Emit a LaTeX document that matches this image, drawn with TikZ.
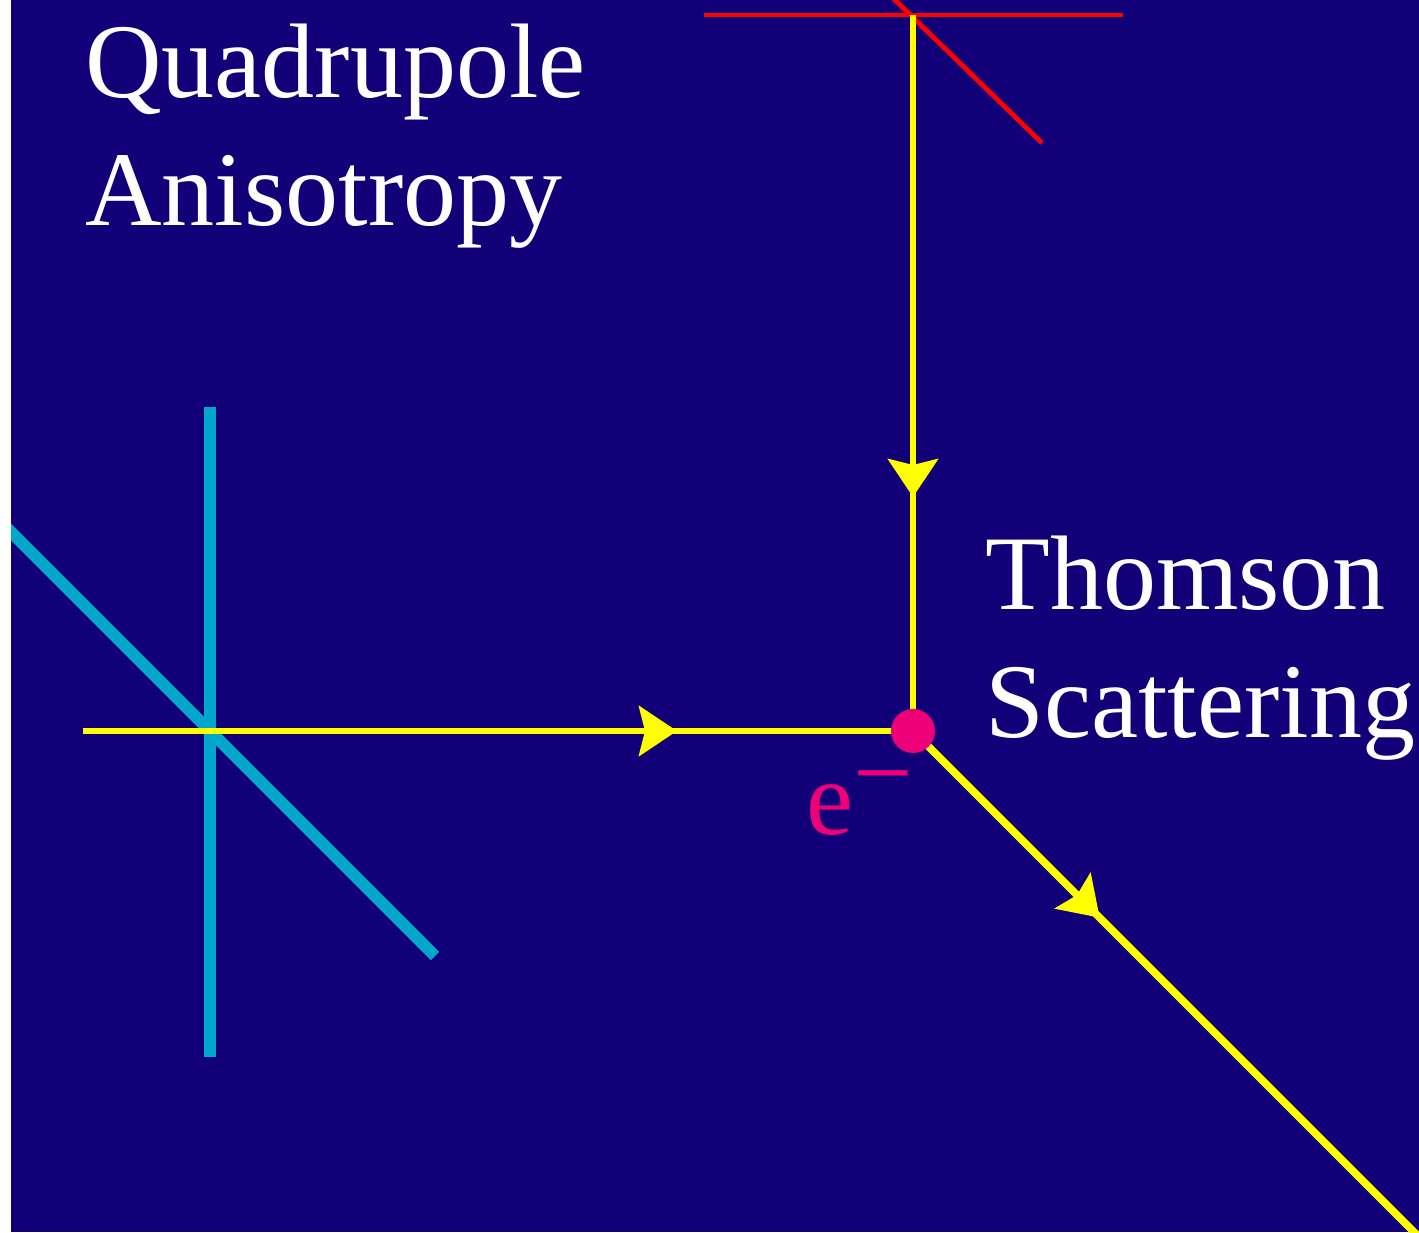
\documentclass[tikz,border=0pt]{standalone}
\usepackage{fontspec}
\setmainfont{Liberation Serif}
\usetikzlibrary{arrows.meta,decorations.markings}
\definecolor{bgblue}{RGB}{17,0,119}
\definecolor{cyanpol}{RGB}{0,166,204}
\definecolor{epink}{RGB}{238,0,120}
\definecolor{rayyellow}{RGB}{255,255,0}
\tikzset{
  ray/.style={draw=rayyellow, line width=3.4pt},
  midarrow/.style={postaction={decorate,decoration={markings,
      mark=at position #1 with {\arrow[rayyellow]{Stealth[length=19pt,width=25pt,inset=3pt]}}}}},
  label/.style={text=white, anchor=base west, inner sep=0pt, align=left,
      font=\fontsize{53}{64}\selectfont},
  redpol/.style={draw=red, line width=2.4pt},
  cyanline/.style={draw=cyanpol, line width=6pt},
  electron/.style={circle, fill=epink, minimum size=22pt, inner sep=0pt},
}
\begin{document}
\begin{tikzpicture}[x=0.5pt,y=-0.5pt]
\useasboundingbox (0,0) rectangle (1419,1232);
\fill[white] (0,0) rectangle (1419,1232);
\fill[bgblue] (11,0) rectangle (1419,1232);
\begin{scope}
\clip (11,0) rectangle (1419,1232);
% electron position
\coordinate (ec) at (913,731);
\coordinate (hstart) at (83,731);
\coordinate (vstart) at (913,15);
\coordinate (dend) at (1418,1236);
% cyan polarization (incoming from left)
\coordinate (cvtop) at (210,407);
\coordinate (cvbot) at (210,1057);
\coordinate (cdtop) at (0,521);
\coordinate (cdbot) at (435,956);
\draw[cyanline] (cvtop) -- (cvbot);
\draw[cyanline] (cdtop) -- (cdbot);
% red polarization (incoming from top)
\coordinate (rhl) at (704,15);
\coordinate (rhr) at (1123,15);
\coordinate (rdtop) at (893,-2);
\coordinate (rdbot) at (1042,143);
\draw[redpol] (rhl) -- (rhr);
\draw[redpol] (rdtop) -- (rdbot);
% rays
\draw[ray, midarrow=297pt] (hstart) -- (ec);
\draw[ray, midarrow=241pt] (vstart) -- (ec);
\draw[ray, line width=3.8pt, midarrow=132pt] (ec) -- (dend);
\node[electron] (e) at (ec) {};
\end{scope}
% labels (anchor = baseline of last line)
\node[label] (quad) at (85,225) {Quadrupole\\Anisotropy};
\node[label] (thom) at (985,737) {Thomson\\Scattering};
\node[label, text=epink] (elabel) at (806,834) {e\raisebox{0.24em}{−}};
\end{tikzpicture}
\end{document}
